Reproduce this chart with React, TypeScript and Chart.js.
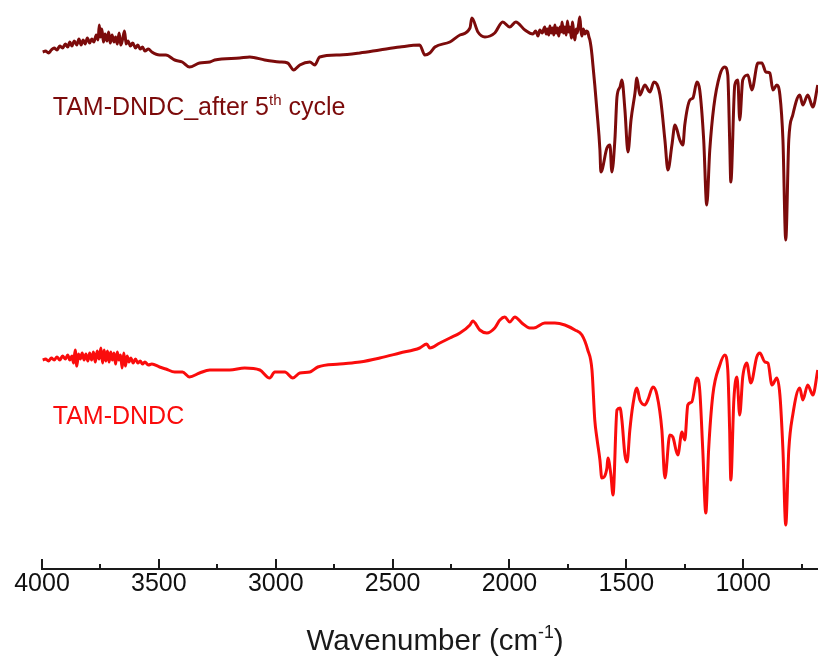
import { useEffect, useRef } from 'react';
import { Chart, registerables } from 'chart.js';

Chart.register(...registerables);

// Wavenumbers (cm-1) and relative transmittance (a.u.)
const afterWavenumbers = [
  3997, 3985, 3972, 3960, 3948, 3936, 3924, 3912, 3900, 3890,
  3881, 3872, 3862, 3851, 3842, 3833, 3824, 3815, 3806, 3796,
  3787, 3778, 3768, 3760, 3755, 3750, 3744, 3737, 3730, 3722,
  3715, 3708, 3700, 3692, 3685, 3678, 3670, 3663, 3655, 3647,
  3640, 3632, 3622, 3612, 3600, 3590, 3580, 3570, 3560, 3545,
  3530, 3497, 3470, 3432, 3400, 3369, 3326, 3282, 3261, 3154,
  3111, 3047, 2983, 2949, 2923, 2897, 2854, 2833, 2812, 2726,
  2640, 2555, 2469, 2384, 2362, 2341, 2319, 2255, 2212, 2169,
  2161, 2135, 2105, 2063, 2029, 1999, 1973, 1934, 1900, 1888,
  1878, 1870, 1860, 1849, 1843, 1838, 1832, 1827, 1821, 1815,
  1810, 1806, 1800, 1795, 1789, 1784, 1779, 1775, 1769, 1763,
  1757, 1752, 1746, 1741, 1735, 1730, 1725, 1720, 1715, 1710,
  1704, 1699, 1694, 1690, 1684, 1677, 1671, 1665, 1660, 1656,
  1651, 1647, 1635, 1626, 1613, 1609, 1583, 1570, 1562, 1549,
  1540, 1527, 1519, 1506, 1493, 1480, 1463, 1455, 1442, 1421,
  1399, 1382, 1356, 1335, 1322, 1305, 1292, 1271, 1258, 1250,
  1228, 1215, 1198, 1186, 1169, 1156, 1143, 1126, 1100, 1079,
  1066, 1058, 1053, 1036, 1023, 1015, 1002, 980, 963, 937,
  920, 903, 886, 873, 856, 843, 830, 818, 805, 788,
  758, 745, 724, 702, 681,
];
const afterValues = [
  517, 518, 516, 519, 521, 519, 523, 521, 525, 522,
  527, 523, 528, 524, 530, 524, 529, 525, 531, 526,
  530, 527, 534, 529, 544, 532, 540, 527, 535, 528,
  537, 526, 534, 527, 532, 525, 536, 524, 530, 538,
  525, 528, 523, 526, 521, 524, 520, 522, 518, 520,
  517, 514, 514, 509, 507, 502, 506, 507, 509, 511,
  512, 509, 507, 506, 499, 504, 507, 504, 512, 514,
  516, 519, 522, 524, 514, 516, 522, 527, 534, 541,
  551, 537, 532, 536, 547, 542, 547, 539, 535, 538,
  533, 539, 536, 542, 535, 540, 534, 543, 536, 541,
  534, 544, 536, 541, 533, 542, 537, 547, 536, 542,
  534, 548, 537, 542, 531, 547, 535, 529, 540, 536,
  545, 552, 538, 533, 540, 535, 538, 537, 532, 529,
  522, 514, 484, 459, 419, 397, 421, 424, 397, 429,
  472, 482, 489, 459, 417, 449, 476, 491, 474, 484,
  477, 487, 474, 429, 399, 424, 444, 429, 424, 444,
  469, 471, 487, 479, 429, 364, 419, 462, 494, 502,
  494, 429, 387, 484, 489, 449, 489, 494, 479, 506,
  506, 497, 496, 479, 484, 474, 429, 329, 429, 454,
  474, 464, 474, 462, 484,
];

const freshWavenumbers = [
  3997, 3985, 3972, 3960, 3948, 3936, 3924, 3912, 3900, 3890,
  3881, 3872, 3865, 3858, 3851, 3844, 3836, 3828, 3820, 3812,
  3804, 3796, 3788, 3780, 3772, 3764, 3756, 3748, 3741, 3734,
  3727, 3720, 3713, 3706, 3699, 3692, 3685, 3678, 3671, 3664,
  3657, 3650, 3643, 3636, 3628, 3620, 3610, 3600, 3590, 3580,
  3570, 3560, 3545, 3530, 3497, 3470, 3432, 3399, 3369, 3326,
  3282, 3197, 3133, 3068, 3026, 3004, 2961, 2927, 2897, 2854,
  2820, 2726, 2640, 2555, 2469, 2384, 2354, 2341, 2298, 2255,
  2212, 2169, 2157, 2127, 2097, 2063, 2041, 2020, 1999, 1977,
  1947, 1913, 1896, 1849, 1806, 1763, 1720, 1690, 1665, 1647,
  1635, 1626, 1613, 1605, 1583, 1579, 1566, 1557, 1540, 1527,
  1519, 1506, 1497, 1485, 1472, 1455, 1442, 1421, 1408, 1386,
  1369, 1348, 1335, 1314, 1301, 1280, 1262, 1250, 1237, 1220,
  1198, 1186, 1173, 1160, 1148, 1130, 1100, 1079, 1066, 1058,
  1053, 1040, 1027, 1015, 1002, 985, 967, 942, 929, 907,
  894, 877, 856, 843, 830, 818, 805, 788, 758, 745,
  724, 702, 681,
];
const freshValues = [
  209, 210, 208, 211, 209, 212, 209, 213, 210, 214,
  209, 213, 206, 219, 203, 215, 210, 216, 209, 215,
  208, 216, 209, 217, 207, 218, 210, 221, 206, 219,
  208, 218, 207, 217, 209, 216, 205, 217, 209, 214,
  201, 216, 203, 213, 207, 211, 206, 210, 206, 208,
  205, 207, 204, 205, 202, 200, 197, 197, 192, 196,
  199, 199, 201, 199, 191, 197, 197, 191, 196, 197,
  202, 205, 207, 211, 216, 221, 225, 221, 226, 231,
  236, 244, 248, 239, 236, 241, 249, 252, 247, 252,
  246, 241, 241, 246, 246, 244, 239, 234, 219, 199,
  149, 131, 109, 91, 101, 111, 94, 74, 159, 161,
  149, 114, 107, 139, 164, 181, 169, 164, 169, 182,
  174, 139, 91, 134, 132, 114, 137, 129, 164, 167,
  191, 179, 119, 56, 119, 174, 204, 214, 199, 139,
  89, 169, 192, 154, 192, 206, 186, 212, 216, 207,
  206, 184, 191, 174, 119, 44, 119, 154, 181, 169,
  184, 174, 199,
];

const majorTicks = [4000, 3500, 3000, 2500, 2000, 1500, 1000];
const minorTicks = [3750, 3250, 2750, 2250, 1750, 1250, 750];
const afterLabel = [
  { text: 'TAM-DNDC_after 5', sup: false },
  { text: 'th', sup: true },
  { text: ' cycle', sup: false },
];
const freshLabel = [{ text: 'TAM-DNDC', sup: false }];
const axisTitle = [
  { text: 'Wavenumber (cm', sup: false },
  { text: '-1', sup: true },
  { text: ')', sup: false },
];

const FONT = '"Liberation Sans", Arial, sans-serif';
const AFTER_COLOR = '#7c0b0b';
const FRESH_COLOR = '#fa0c0c';
const AXIS_COLOR = '#1a1a1a';

type Part = { text: string; sup: boolean };

function measureRich(ctx: CanvasRenderingContext2D, parts: Part[], size: number) {
  let w = 0;
  for (const p of parts) {
    ctx.font = `${p.sup ? size * 0.6 : size}px ${FONT}`;
    w += ctx.measureText(p.text).width;
  }
  return w;
}

function drawRich(ctx: CanvasRenderingContext2D, parts: Part[], x: number, baseline: number, size: number, color: string) {
  ctx.fillStyle = color;
  ctx.textBaseline = 'alphabetic';
  ctx.textAlign = 'left';
  let cx = x;
  for (const p of parts) {
    const s = p.sup ? size * 0.6 : size;
    ctx.font = `${s}px ${FONT}`;
    ctx.fillText(p.text, cx, p.sup ? baseline - size * 0.4 : baseline);
    cx += ctx.measureText(p.text).width;
  }
}

const decorPlugin = {
  id: 'decor',
  afterDraw(chart: any) {
    const { ctx, chartArea, scales } = chart;
    const xs = scales.x;
    ctx.save();
    ctx.strokeStyle = AXIS_COLOR;
    ctx.lineWidth = 2;
    const drawTick = (v: number, len: number) => {
      const px = Math.round(xs.getPixelForValue(v));
      ctx.beginPath();
      ctx.moveTo(px, chartArea.bottom);
      ctx.lineTo(px, chartArea.bottom - len);
      ctx.stroke();
    };
    majorTicks.forEach((v) => drawTick(v, 10));
    minorTicks.forEach((v) => drawTick(v, 5));

    drawRich(ctx, afterLabel, xs.getPixelForValue(3954), 114.5, 25, AFTER_COLOR);
    drawRich(ctx, freshLabel, xs.getPixelForValue(3954), 423.5, 25, FRESH_COLOR);

    const tw = measureRich(ctx, axisTitle, 29.5);
    drawRich(ctx, axisTitle, 435 - tw / 2, 650, 29.5, AXIS_COLOR);
    ctx.restore();
  },
};

export default function App() {
  const ref = useRef<HTMLCanvasElement | null>(null);

  useEffect(() => {
    document.body.style.margin = '0';
    const canvas = ref.current!;
    const chart = new Chart(canvas, {
      type: 'line',
      data: {
        datasets: [
          {
            label: 'TAM-DNDC_after 5th cycle',
            data: afterWavenumbers.map((x, i) => ({ x, y: afterValues[i] })),
            borderColor: AFTER_COLOR,
            borderWidth: 3,
            pointRadius: 0,
            cubicInterpolationMode: 'monotone',
            fill: false,
          },
          {
            label: 'TAM-DNDC',
            data: freshWavenumbers.map((x, i) => ({ x, y: freshValues[i] })),
            borderColor: FRESH_COLOR,
            borderWidth: 3,
            pointRadius: 0,
            cubicInterpolationMode: 'monotone',
            fill: false,
          },
        ],
      },
      options: {
        responsive: false,
        animation: false,
        devicePixelRatio: 1,
        layout: { padding: { left: 42, right: 0, top: 0, bottom: 0 } },
        plugins: { legend: { display: false }, tooltip: { enabled: false } },
        scales: {
          x: {
            type: 'linear',
            reverse: true,
            min: 680,
            max: 4000,
            afterBuildTicks: (scale: any) => {
              scale.ticks = majorTicks.map((value) => ({ value }));
            },
            afterFit: (scale: any) => {
              scale.height = 90;
            },
            grid: { display: false, drawTicks: false },
            border: { display: true, color: AXIS_COLOR, width: 2 },
            ticks: {
              color: '#111',
              padding: 0,
              maxRotation: 0,
              autoSkip: false,
              font: { family: FONT, size: 25 },
              callback: (v: any) => String(v),
            },
          },
          y: {
            display: false,
            min: 0,
            max: 569,
          },
        },
      },
      plugins: [decorPlugin],
    });
    return () => chart.destroy();
  }, []);

  return (
    <div style={{ width: 818, height: 659 }}>
      <canvas ref={ref} width={818} height={659} style={{ display: 'block' }} />
    </div>
  );
}
